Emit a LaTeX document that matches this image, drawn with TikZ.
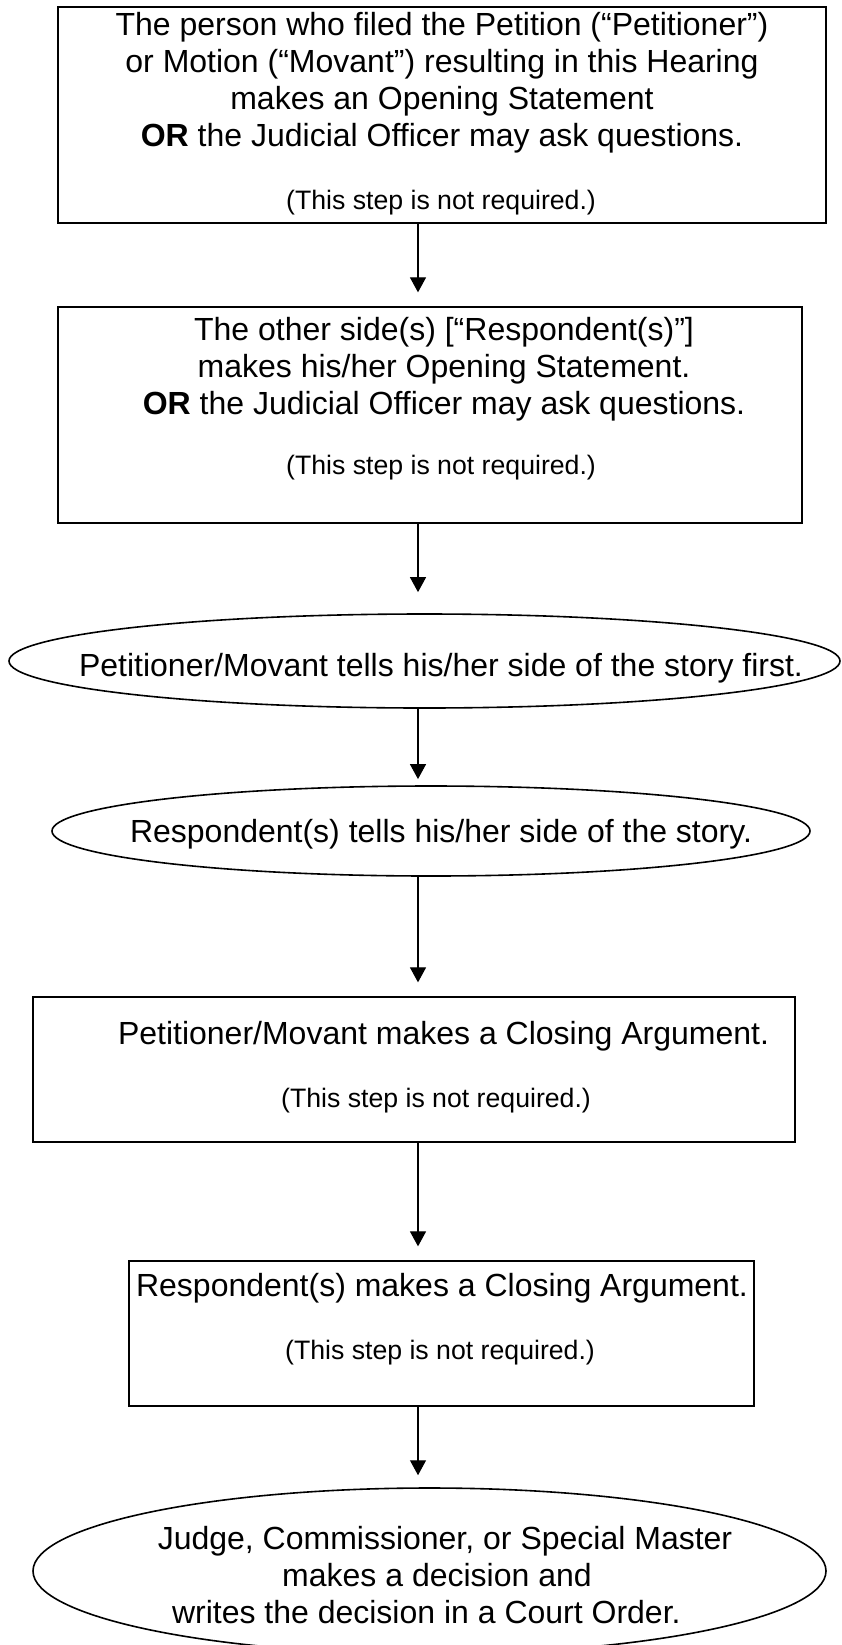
\documentclass[tikz,border=0pt]{standalone}
\usepackage{fontspec}
\setmainfont{Liberation Sans}
\usetikzlibrary{shapes.geometric,arrows.meta}
\newcommand\pxu{0.375pt}
\tikzset{
  stepbox/.style={draw, line width=0.5pt, rectangle, inner sep=0pt},
  stepoval/.style={draw, line width=0.6pt, ellipse, inner sep=0pt},
  steptext/.style={align=center, inner sep=0pt, font=\fontsize{12pt}{13.9pt}\selectfont},
  note/.style={inner sep=0pt, font=\fontsize{10pt}{12pt}\selectfont},
  flow/.style={draw, line width=0.4pt, -{Triangle[width=6pt,length=5.6pt]}}
}
\begin{document}
\begin{tikzpicture}[x=0.375pt, y=-0.375pt]
  \path[use as bounding box, clip] (0, 0) rectangle (841, 1645);
  \coordinate (A) at (418, 0);
  \node[stepbox, minimum width=768*\pxu, minimum height=216*\pxu] (OpenP) at (442, 115) {};
  \node[stepbox, minimum width=744*\pxu, minimum height=216*\pxu] (OpenR) at (430, 415) {};
  \node[stepoval, minimum width=831*\pxu, minimum height=94*\pxu] (CaseP) at (424.5, 661) {};
  \node[stepoval, minimum width=758*\pxu, minimum height=90*\pxu] (CaseR) at (431, 831) {};
  \node[stepbox, minimum width=762*\pxu, minimum height=145*\pxu] (CloseP) at (414, 1069.5) {};
  \node[stepbox, minimum width=625*\pxu, minimum height=145*\pxu] (CloseR) at (441.5, 1333.5) {};
  \node[stepoval, minimum width=793*\pxu, minimum height=166*\pxu] (Dec) at (429.5, 1571) {};
  \node[steptext] (OpenPt) at (442, 83) {The person who filed the Petition (“Petitioner”)\\ or Motion (“Movant”) resulting in this Hearing\\ makes an Opening Statement\\ \textbf{OR} the Judicial Officer may ask questions.};
  \node[note] (OpenPn) at (441, 203) {(This step is not required.)};
  \node[steptext] (OpenRt) at (444, 369) {The other side(s) [“Respondent(s)”]\\ makes his/her Opening Statement.\\ \textbf{OR} the Judicial Officer may ask questions.};
  \node[note] (OpenRn) at (441, 468) {(This step is not required.)};
  \node[steptext] (CasePt) at (441, 668) {Petitioner/Movant tells his/her side of the story first.};
  \node[steptext] (CaseRt) at (441, 834) {Respondent(s) tells his/her side of the story.};
  \node[steptext] (ClosePt) at (443.5, 1036) {Petitioner/Movant makes a Closing Argument.};
  \node[note] (ClosePn) at (436, 1101) {(This step is not required.)};
  \node[steptext] (CloseRt) at (442, 1288) {Respondent(s) makes a Closing Argument.};
  \node[note] (CloseRn) at (440, 1353) {(This step is not required.)};
  \node[steptext, font=\fontsize{12pt}{14pt}\selectfont] (Dect) at (437, 1575) {\hspace*{6pt}Judge, Commissioner, or Special Master\\ makes a decision and\\ writes the decision in a Court Order.\hspace*{8pt}};
  \draw[flow, shorten >=5.25pt] (OpenP.south -| A) -- (OpenR.north -| A);
  \draw[flow, shorten >=7.9pt] (OpenR.south -| A) -- (CaseP.north -| A);
  \draw[flow, shorten >=2.3pt] (CaseP.south -| A) -- (CaseR.north -| A);
  \draw[flow, shorten >=5.25pt] (CaseR.south -| A) -- (CloseP.north -| A);
  \draw[flow, shorten >=5.25pt] (CloseP.south -| A) -- (CloseR.north -| A);
  \draw[flow, shorten >=4.5pt] (CloseR.south -| A) -- (Dec.north -| A);
\end{tikzpicture}
\end{document}
